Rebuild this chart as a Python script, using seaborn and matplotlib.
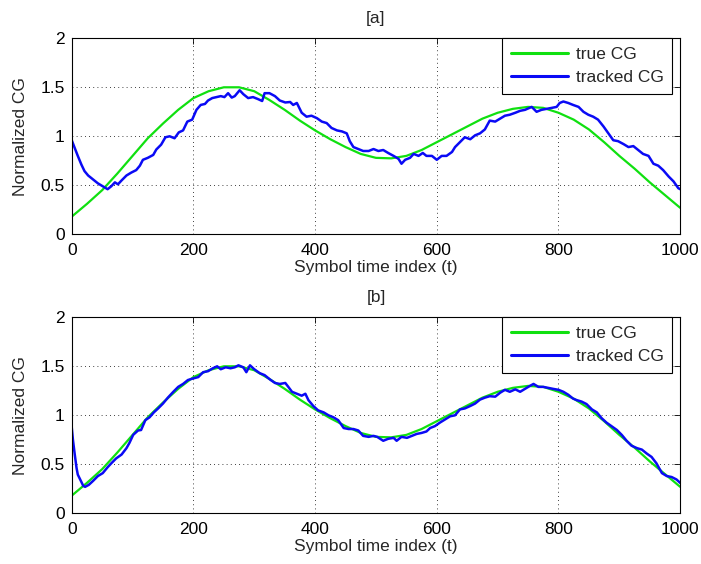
import matplotlib
matplotlib.use("Agg")
import matplotlib.pyplot as plt
import seaborn as sns
import pandas as pd

# ---- data ----
t_true = [0, 25, 50, 75, 100, 125, 150, 175, 200, 225, 250, 275, 300, 325, 350, 375,
          400, 425, 450, 475, 500, 525, 550, 575, 600, 625, 650, 675, 700, 725, 750,
          775, 800, 825, 850, 875, 900, 925, 950, 975, 1000]
cg_true = [0.18, 0.31, 0.45, 0.62, 0.80, 0.98, 1.13, 1.27, 1.39, 1.46, 1.50, 1.50, 1.46,
           1.37, 1.27, 1.16, 1.06, 0.97, 0.89, 0.82, 0.78, 0.775, 0.80, 0.86, 0.94, 1.02,
           1.10, 1.18, 1.24, 1.28, 1.30, 1.29, 1.24, 1.17, 1.07, 0.94, 0.80, 0.67, 0.53,
           0.40, 0.27]

t_track_a = [0, 5, 10, 16, 21, 27, 35, 43, 51, 59, 65, 71, 76, 82, 90, 98, 106, 112, 117,
             125, 134, 139, 147, 154, 161, 169, 176, 183, 190, 198, 205, 212, 219, 224, 231,
             238, 245, 251, 257, 263, 268, 276, 282, 290, 298, 306, 313, 317, 325, 334, 342,
             351, 359, 364, 370, 378, 386, 394, 403, 411, 419, 427, 436, 444, 452, 457, 463,
             471, 479, 488, 496, 504, 512, 520, 529, 537, 542, 548, 556, 562, 570, 577, 583,
             592, 600, 608, 616, 625, 630, 638, 646, 655, 663, 671, 679, 687, 696, 704, 712,
             720, 729, 737, 745, 756, 764, 772, 781, 789, 797, 802, 808, 816, 824, 833, 841,
             849, 857, 865, 874, 882, 890, 898, 907, 915, 923, 931, 939, 948, 956, 964, 972,
             981, 989, 997, 1000]
cg_track_a = [0.96, 0.88, 0.80, 0.71, 0.645, 0.60, 0.56, 0.52, 0.49, 0.46, 0.49, 0.53, 0.51,
              0.55, 0.60, 0.63, 0.655, 0.70, 0.76, 0.78, 0.81, 0.865, 0.915, 0.99, 1.00, 0.98,
              1.04, 1.06, 1.15, 1.17, 1.27, 1.32, 1.33, 1.365, 1.39, 1.40, 1.41, 1.40, 1.44,
              1.395, 1.41, 1.47, 1.43, 1.39, 1.40, 1.38, 1.36, 1.44, 1.44, 1.41, 1.365, 1.345,
              1.35, 1.32, 1.34, 1.24, 1.20, 1.21, 1.185, 1.15, 1.135, 1.085, 1.06, 1.05, 1.03,
              0.95, 0.89, 0.87, 0.85, 0.85, 0.87, 0.85, 0.86, 0.83, 0.80, 0.77, 0.72, 0.76,
              0.78, 0.82, 0.80, 0.83, 0.80, 0.80, 0.76, 0.80, 0.80, 0.84, 0.89, 0.94, 0.99,
              0.97, 1.01, 1.03, 1.07, 1.16, 1.15, 1.18, 1.21, 1.22, 1.24, 1.26, 1.27, 1.30,
              1.25, 1.27, 1.28, 1.29, 1.30, 1.34, 1.355, 1.34, 1.32, 1.30, 1.25, 1.22, 1.20,
              1.17, 1.10, 1.03, 0.96, 0.95, 0.92, 0.89, 0.90, 0.86, 0.82, 0.80, 0.72, 0.70,
              0.655, 0.59, 0.54, 0.47, 0.46]

t_track_b = [0, 2, 5, 8, 10, 15, 19, 22, 28, 35, 43, 51, 59, 65, 73, 82, 90, 95, 101, 109,
             114, 121, 128, 135, 142, 150, 158, 167, 175, 183, 191, 199, 208, 216, 224, 232,
             239, 245, 253, 261, 268, 274, 282, 287, 293, 300, 309, 317, 326, 334, 342, 351,
             356, 362, 370, 378, 384, 389, 397, 405, 414, 422, 430, 438, 447, 455, 463, 471,
             479, 488, 496, 502, 512, 520, 529, 534, 542, 551, 559, 567, 575, 583, 589, 597,
             605, 614, 622, 630, 638, 646, 655, 663, 671, 679, 687, 696, 704, 712, 720, 729,
             737, 745, 753, 759, 767, 775, 783, 791, 800, 808, 816, 824, 830, 838, 846, 855,
             863, 871, 879, 887, 896, 904, 912, 920, 929, 937, 945, 953, 961, 970, 978, 986,
             994, 1000]
cg_track_b = [0.88, 0.75, 0.60, 0.46, 0.395, 0.33, 0.28, 0.27, 0.29, 0.33, 0.38, 0.41, 0.47,
              0.51, 0.56, 0.60, 0.665, 0.72, 0.80, 0.845, 0.85, 0.95, 0.98, 1.03, 1.07, 1.12,
              1.18, 1.24, 1.29, 1.32, 1.36, 1.375, 1.39, 1.44, 1.45, 1.48, 1.50, 1.47, 1.49,
              1.48, 1.49, 1.51, 1.49, 1.44, 1.51, 1.47, 1.43, 1.41, 1.365, 1.33, 1.32, 1.33,
              1.29, 1.24, 1.22, 1.20, 1.22, 1.155, 1.095, 1.05, 1.03, 1.00, 0.98, 0.95, 0.87,
              0.86, 0.86, 0.845, 0.79, 0.78, 0.79, 0.78, 0.74, 0.76, 0.77, 0.74, 0.78, 0.77,
              0.79, 0.81, 0.82, 0.835, 0.87, 0.89, 0.925, 0.96, 0.99, 1.00, 1.06, 1.07, 1.095,
              1.12, 1.16, 1.18, 1.195, 1.19, 1.23, 1.26, 1.24, 1.265, 1.24, 1.27, 1.30, 1.32,
              1.29, 1.29, 1.28, 1.27, 1.26, 1.24, 1.21, 1.17, 1.155, 1.14, 1.115, 1.06, 1.03,
              0.97, 0.925, 0.89, 0.85, 0.80, 0.74, 0.69, 0.665, 0.65, 0.61, 0.575, 0.51, 0.41,
              0.38, 0.37, 0.345, 0.31]

titles = ["[a]", "[b]"]
xticks = [0, 200, 400, 600, 800, 1000]
yticks = [0, 0.5, 1, 1.5, 2]
ytick_labels = ["0", "0.5", "1", "1.5", "2"]
legend_labels = ["true CG", "tracked CG"]

# ---- style ----
sns.set_style("white")
plt.rcParams["font.family"] = ["Liberation Sans", "DejaVu Sans"]

GREEN = "#10e010"
BLUE = "#0a0af5"
FS = 12.5

fig = plt.figure(figsize=(7.01, 5.64), dpi=100)
positions = [[0.1023, 0.5846, 0.8680, 0.3475], [0.1023, 0.0899, 0.8680, 0.3475]]
tracks = [(t_track_a, cg_track_a), (t_track_b, cg_track_b)]

df_true = pd.DataFrame({"t": t_true, "cg": cg_true})

for pos, title, (tt, cc) in zip(positions, titles, tracks):
    ax = fig.add_axes(pos)
    df_tr = pd.DataFrame({"t": tt, "cg": cc})
    sns.lineplot(data=df_true, x="t", y="cg", ax=ax, color=GREEN, lw=1.6,
                 label=legend_labels[0], sort=False)
    sns.lineplot(data=df_tr, x="t", y="cg", ax=ax, color=BLUE, lw=1.8,
                 label=legend_labels[1], sort=False)
    ax.set_xlim(0, 1000)
    ax.set_ylim(0, 2)
    ax.set_xticks(xticks)
    ax.set_yticks(yticks)
    ax.set_xticklabels([str(v) for v in xticks], fontsize=FS)
    ax.set_yticklabels(ytick_labels, fontsize=FS)
    ax.tick_params(axis="x", direction="in", top=True, length=4, width=0.6,
                   pad=6, colors="black")
    ax.tick_params(axis="y", direction="in", right=True, length=4, width=0.6,
                   pad=5, colors="black")
    ax.grid(True, linestyle=(0, (1, 4)), color="black", lw=0.6)
    for s in ax.spines.values():
        s.set_color("black")
        s.set_linewidth(0.8)
    ax.set_xlabel("Symbol time index (t)", fontsize=FS, labelpad=2)
    ax.set_ylabel("Normalized CG", fontsize=FS, labelpad=9)
    ax.set_title(title, fontsize=FS, pad=11)
    leg = ax.legend(loc="upper right", bbox_to_anchor=(0.987, 1.0), borderaxespad=0,
                    fontsize=FS, frameon=True, fancybox=False, framealpha=1,
                    edgecolor="black", handlelength=3.3, handletextpad=0.45,
                    borderpad=0.5, labelspacing=0.45)
    leg.get_frame().set_linewidth(0.8)
    for line in leg.get_lines():
        line.set_linewidth(2.2)

fig.savefig("out.png", dpi=100)
